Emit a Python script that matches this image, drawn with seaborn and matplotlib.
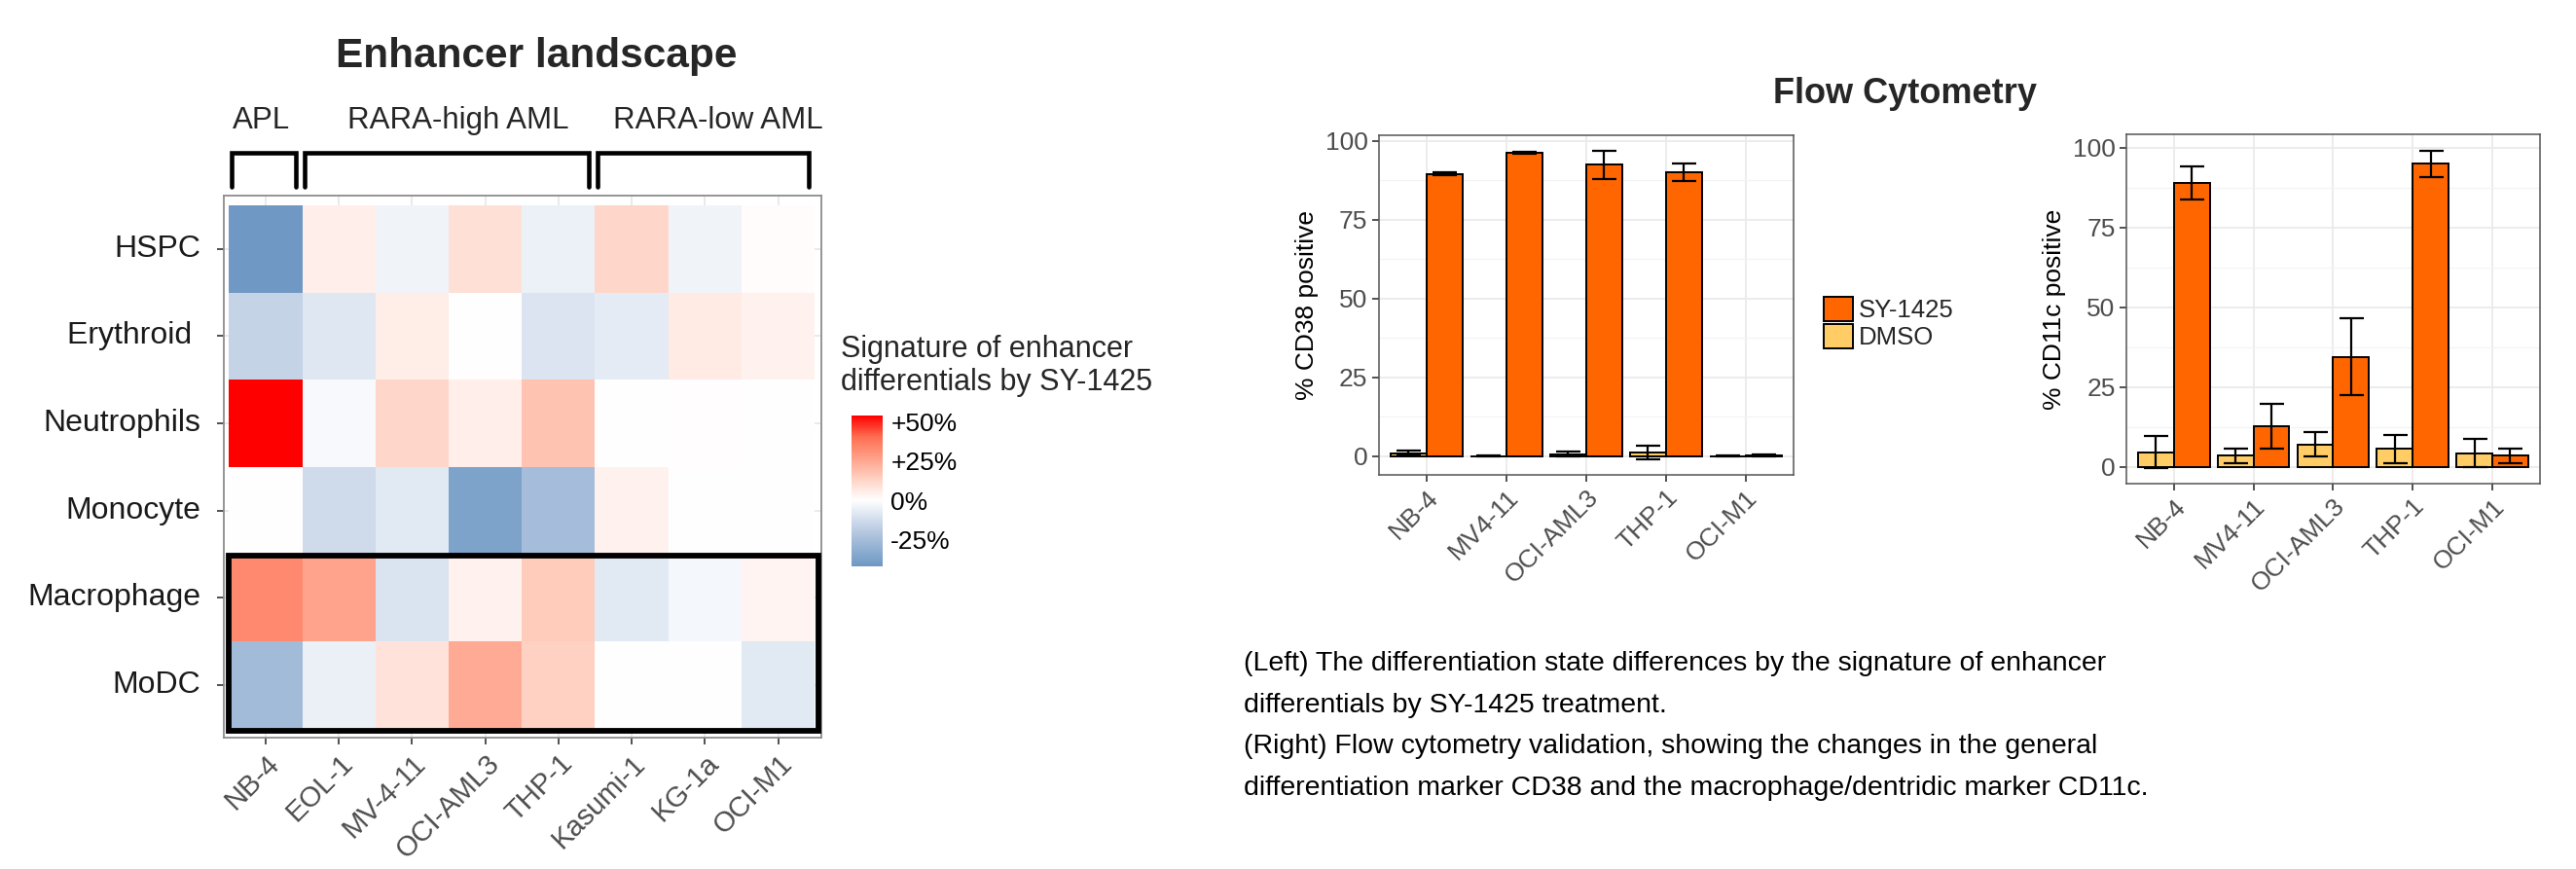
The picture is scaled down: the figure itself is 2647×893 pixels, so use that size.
import numpy as np
import pandas as pd
import matplotlib
matplotlib.use("Agg")
import matplotlib.pyplot as plt
import seaborn as sns
from matplotlib.colors import LinearSegmentedColormap
from matplotlib.patches import Rectangle, Patch

# ---------------- data ----------------
heat_rows = ["HSPC", "Erythroid ", "Neutrophils", "Monocyte", "Macrophage", "MoDC"]
heat_cols = ["NB-4", "EOL-1", "MV-4-11", "OCI-AML3", "THP-1", "Kasumi-1", "KG-1a", "OCI-M1"]
hspc        = [-41.5, 5.0, -4.0, 9.0, -5.0, 12.0, -4.0, 1.0]
erythroid   = [-16.0, -8.5, 5.5, 0.0, -9.5, -7.5, 6.0, 4.0]
neutrophils = [54.0, -2.0, 12.0, 5.0, 17.5, 0.3, 0.5, 0.0]
monocyte    = [0.0, -13.0, -8.0, -37.0, -25.0, 4.0, 0.0, 0.0]
macrophage  = [33.0, 26.0, -10.0, 4.0, 15.0, -8.0, -3.0, 3.0]
modc        = [-26.0, -5.5, 8.5, 24.0, 13.5, 0.0, 0.0, -8.0]
groups = [("APL", 0, 1), ("RARA-high AML", 1, 5), ("RARA-low AML", 5, 8)]
highlight_rows = ["Macrophage", "MoDC"]
cbar_ticks = [-25, 0, 25, 50]
cbar_labels = ["-25%", "0%", "+25%", "+50%"]

cells = ["NB-4", "MV4-11", "OCI-AML3", "THP-1", "OCI-M1"]
treatments = ["DMSO", "SY-1425"]
cd38_sy       = [89.5, 96.2, 92.3, 90.0, 0.3]
cd38_sy_sd    = [0.5, 0.3, 4.5, 2.7, 0.3]
cd38_dmso     = [1.0, 0.1, 0.7, 1.2, 0.1]
cd38_dmso_sd  = [0.8, 0.05, 0.7, 2.1, 0.05]
cd11c_sy      = [89.0, 12.7, 34.5, 94.9, 3.4]
cd11c_sy_sd   = [5.1, 7.0, 12.1, 4.2, 2.2]
cd11c_dmso    = [4.6, 3.4, 7.0, 5.6, 4.3]
cd11c_dmso_sd = [5.0, 2.4, 3.9, 4.5, 4.3]

caption_lines = [
    "(Left) The differentiation state differences by the signature of enhancer",
    "differentials by SY-1425 treatment.",
    "(Right) Flow cytometry validation, showing the changes in the general",
    "differentiation marker CD38 and the macrophage/dentridic marker CD11c.",
]

# ---------------- style ----------------
sns.set_style("white")
plt.rcParams["font.family"] = ["Liberation Sans", "DejaVu Sans"]

W, H = 2647, 893
fig = plt.figure(figsize=(W / 100, H / 100), dpi=100)

def rect(x0, y0, x1, y1):
    return [x0 / W, 1 - y1 / H, (x1 - x0) / W, (y1 - y0) / H]

# ---------------- heatmap ----------------
heat = pd.DataFrame([hspc, erythroid, neutrophils, monocyte, macrophage, modc],
                    index=heat_rows, columns=heat_cols)
vmin, vmax = -42.0, 54.0
def pos(v):
    return (v - vmin) / (vmax - vmin)
cmap = LinearSegmentedColormap.from_list("sig", [
    (pos(-42), "#6E98C4"), (pos(-31.5), "#90AFD1"), (pos(-21), "#B3C6DF"),
    (pos(-10.5), "#D8E2EF"), (pos(0), "#FFFFFF"), (pos(13.5), "#FFD2C4"),
    (pos(27), "#FFA088"), (pos(40.5), "#FF6E52"), (pos(54), "#FF0000")])

ax_h = fig.add_axes(rect(230, 201, 844, 758))
cax = fig.add_axes(rect(875, 427, 907, 582))
sns.heatmap(heat, ax=ax_h, cmap=cmap, vmin=vmin, vmax=vmax, cbar_ax=cax,
            linewidths=0, zorder=2)
ax_h.set_xlim(-0.07, 8.09)
ax_h.set_ylim(6.1, -0.11)
for s in ax_h.spines.values():
    s.set_visible(True)
    s.set_color("#8C8C8C")
    s.set_linewidth(1.3)
ax_h.set_axisbelow(True)
ax_h.grid(True, color="#E6E6E6", lw=1.2, zorder=0)
ax_h.set_xlabel("")
ax_h.set_ylabel("")
ax_h.tick_params(axis="both", length=5, width=1.2, color="#333333")
ax_h.tick_params(axis="y", pad=12, labelsize=23, labelcolor="#1A1A1A", left=True)
ax_h.tick_params(axis="x", pad=4, labelsize=21, labelcolor="#4D4D4D", bottom=True)
ax_h.set_yticklabels(heat_rows, rotation=0)
ax_h.set_xticklabels(heat_cols, rotation=45, ha="right", va="top", rotation_mode="anchor")

# highlight box around selected rows
r0 = heat_rows.index(highlight_rows[0])
r1 = heat_rows.index(highlight_rows[-1]) + 1
ax_h.add_patch(Rectangle((-0.01, r0 + 0.02), len(heat_cols) + 0.06, r1 - r0,
                         fill=False, ec="black", lw=4.2, clip_on=False, zorder=5))

# group brackets
label_shift = [-0.06, 0.13, 0.18]
for (label, c0, c1), dx in zip(groups, label_shift):
    xl, xr = c0 + 0.03, c1 - 0.08
    ax_h.plot([xl, xl, xr, xr], [-0.21, -0.60, -0.60, -0.21], color="black", lw=3.3,
              clip_on=False, solid_joinstyle="miter", zorder=5)
    ax_h.text((c0 + c1) / 2 + dx, -0.97, label, ha="center", va="center", fontsize=22.5)

# colorbar
cbar = ax_h.collections[0].colorbar
cbar.outline.set_visible(False)
cbar.set_ticks(cbar_ticks)
cbar.set_ticklabels(cbar_labels)
cax.tick_params(direction="in", color="white", width=1.0, length=6, left=True, right=True,
                labelleft=False, labelright=True, labelsize=19, labelcolor="black", pad=6)
fig.text(864 / W, 1 - 376 / H, "Signature of enhancer\ndifferentials by SY-1425",
         ha="left", va="center", fontsize=22, linespacing=1.2)

fig.text(551 / W, 1 - 58 / H, "Enhancer landscape", ha="center", va="center",
         fontsize=30.5, fontweight="bold")

# ---------------- bar charts ----------------
pal = {"DMSO": "#FFCC66", "SY-1425": "#FF6600"}

def bar_panel(ax, sy, sy_sd, dmso, dmso_sd, ylabel, ylim):
    df = pd.DataFrame({
        "cell": cells * 2,
        "treatment": ["DMSO"] * len(cells) + ["SY-1425"] * len(cells),
        "value": dmso + sy,
        "sd": dmso_sd + sy_sd,
    })
    sns.barplot(data=df, x="cell", y="value", hue="treatment", order=cells,
                hue_order=treatments, palette=pal, width=0.9, saturation=1,
                edgecolor="black", linewidth=1.4, errorbar=None, legend=False,
                ax=ax, zorder=2)
    for cont, trt in zip(ax.containers, treatments):
        sub = df[df.treatment == trt].set_index("cell").loc[cells]
        for bar, sd in zip(cont, sub["sd"]):
            xc = bar.get_x() + bar.get_width() / 2
            ax.errorbar(xc, bar.get_height(), yerr=sd, color="black", lw=1.6,
                        capsize=9, capthick=1.6, zorder=3)
    ax.set_xlim(-0.6, len(cells) - 0.4)
    ax.set_ylim(*ylim)
    ax.set_yticks([0, 25, 50, 75, 100])
    ax.set_yticks([12.5, 37.5, 62.5, 87.5], minor=True)
    ax.set_axisbelow(True)
    ax.grid(which="major", color="#EBEBEB", lw=1.3)
    ax.grid(which="minor", axis="y", color="#F3F3F3", lw=0.8)
    for s in ax.spines.values():
        s.set_visible(True)
        s.set_color("#555555")
        s.set_linewidth(1.1)
    ax.set_xlabel("")
    ax.set_ylabel(ylabel, fontsize=19, labelpad=5, color="black")
    ax.tick_params(which="minor", length=0)
    ax.tick_params(which="major", length=5, width=1.2, color="#333333",
                   left=True, bottom=True, labelcolor="#4D4D4D", labelsize=19, pad=3)
    ax.set_xticks(range(len(cells)))
    ax.set_xticklabels(cells, rotation=45, ha="right", va="top", rotation_mode="anchor",
                       fontsize=19, color="#4D4D4D")

ax1 = fig.add_axes(rect(1416.5, 139, 1843, 488))
bar_panel(ax1, cd38_sy, cd38_sy_sd, cd38_dmso, cd38_dmso_sd, "% CD38 positive", (-5.9, 101.7))
ax2 = fig.add_axes(rect(2184.7, 138, 2610, 497))
bar_panel(ax2, cd11c_sy, cd11c_sy_sd, cd11c_dmso, cd11c_dmso_sd, "% CD11c positive", (-5.3, 104.2))

handles = [Patch(fc=pal[t], ec="black", lw=1.4) for t in treatments[::-1]]
fig.legend(handles, treatments[::-1], loc="center left",
           bbox_to_anchor=(1874 / W, 1 - 332 / H), frameon=False,
           prop={"size": 18.5}, handlelength=1.17, handleheight=1.13,
           handletextpad=0.23, labelspacing=0.08, borderaxespad=0, borderpad=0)

fig.text(1958 / W, 1 - 96 / H, "Flow Cytometry", ha="center", va="center",
         fontsize=26, fontweight="bold")

for i, line in enumerate(caption_lines):
    fig.text(1278 / W, 1 - (682 + 42.7 * i) / H, line, ha="left", va="center",
             fontsize=20.5, color="black")

fig.savefig("out.png", dpi=100, facecolor="white")
